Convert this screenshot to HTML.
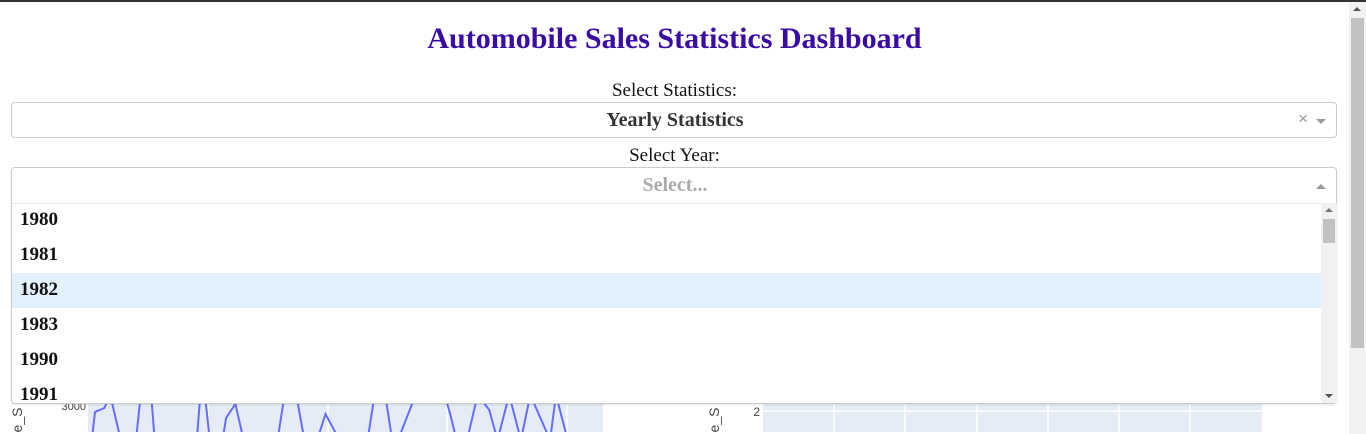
<!DOCTYPE html>
<html><head><meta charset="utf-8"><style>
body{margin:0;width:1366px;height:432px;overflow:hidden;background:#fff;font-family:"Liberation Serif",serif;position:relative;border-top:2px solid #333;box-sizing:border-box}
.abs{position:absolute}
h1{position:absolute;left:0;width:1349px;top:20px;margin:0;text-align:center;font-size:30px;color:#3a0ca3;font-weight:bold}
.lbl{position:absolute;width:1349px;text-align:center;font-size:19px;color:#111}
.dd{position:absolute;left:11px;width:1326px;border:1px solid #ccc;border-radius:4px;box-sizing:border-box;background:#fff}
.opt{position:absolute;left:20px;font-size:19px;font-weight:bold;color:#111}
</style></head><body>
<svg class="abs" style="left:0;top:-2px" width="1366" height="432">
<rect x="88" y="403" width="515" height="40" fill="#e5ecf6"/>
<g stroke="#fff" stroke-width="1.5"><line x1="208" y1="403" x2="208" y2="432"/><line x1="328" y1="403" x2="328" y2="432"/><line x1="447" y1="403" x2="447" y2="432"/><line x1="567" y1="403" x2="567" y2="432"/></g>
<path id="line" fill="none" stroke="#636efa" stroke-width="2"/>
<text x="86" y="410" font-size="11" fill="#444" text-anchor="end" font-family="Liberation Sans,sans-serif">3000</text>
<text transform="translate(22,420) rotate(-90)" font-size="14" fill="#444" font-family="Liberation Sans,sans-serif" text-anchor="middle">e_S</text>
<rect x="763" y="403" width="499" height="40" fill="#e5ecf6"/>
<g stroke="#fff" stroke-width="1.5"><line x1="834" y1="403" x2="834" y2="432"/><line x1="905" y1="403" x2="905" y2="432"/><line x1="977" y1="403" x2="977" y2="432"/><line x1="1048" y1="403" x2="1048" y2="432"/><line x1="1119" y1="403" x2="1119" y2="432"/><line x1="1190" y1="403" x2="1190" y2="432"/><line x1="763" y1="411" x2="1262" y2="411"/></g>
<text x="760" y="416" font-size="12" fill="#444" text-anchor="end" font-family="Liberation Sans,sans-serif">2</text>
<text transform="translate(719,420) rotate(-90)" font-size="14" fill="#444" font-family="Liberation Sans,sans-serif" text-anchor="middle">e_S</text>
</svg>
<h1>Automobile Sales Statistics Dashboard</h1>
<div class="lbl" style="top:78px">Select Statistics:</div>
<div class="dd" style="top:100px;height:36px">
<div class="abs" style="left:0;width:1326px;top:6px;text-align:center;font-size:20px;font-weight:bold;color:#333">Yearly Statistics</div>
<div class="abs" style="right:28px;top:6px;color:#999;font-size:17px;font-family:Liberation Sans,sans-serif">×</div>
<div class="abs" style="right:10px;top:16px;width:0;height:0;border-left:5px solid transparent;border-right:5px solid transparent;border-top:5px solid #999"></div>
</div>
<div class="lbl" style="top:143px">Select Year:</div>
<div class="dd" style="top:165px;height:237px;box-shadow:0 1px 2px rgba(0,0,0,.1)">
<div class="abs" style="left:0;width:1326px;top:6px;text-align:center;font-size:20px;font-weight:bold;color:#aaa">Select...</div>
<div class="abs" style="right:10px;top:16px;width:0;height:0;border-left:5px solid transparent;border-right:5px solid transparent;border-bottom:5px solid #999"></div>
<div class="abs" style="left:0;top:35px;width:1324px;border-top:1px solid #e6e6e6"></div>
<div class="abs" style="left:0;top:105px;width:1309px;height:35px;background:#e3f0fd"></div>
<div class="abs" style="left:1309px;top:35px;width:16px;height:200px;background:#f1f1f1">
<div class="abs" style="top:16px;width:12px;height:24px;background:#c1c1c1;left:2px"></div>
<div class="abs" style="left:4px;top:5px;border-left:4px solid transparent;border-right:4px solid transparent;border-bottom:4px solid #777"></div>
<div class="abs" style="left:4px;bottom:5px;border-left:4px solid transparent;border-right:4px solid transparent;border-top:4px solid #555"></div>
</div>
</div>
<div class="opt" style="top:207px">1980</div>
<div class="opt" style="top:242px">1981</div>
<div class="opt" style="top:277px">1982</div>
<div class="opt" style="top:312px">1983</div>
<div class="opt" style="top:347px">1990</div>
<div class="opt" style="top:382px">1991</div>
<div class="abs" style="left:1349px;top:0;width:17px;height:432px;background:#f1f1f1">
<div class="abs" style="left:2px;top:16px;width:13px;height:330px;background:#c1c1c1"></div>
<div class="abs" style="left:4px;top:5px;border-left:4px solid transparent;border-right:4px solid transparent;border-bottom:4px solid #555"></div>
</div>
<script>
const years=[1980.4,1980.6,1981.4,1981.9,1982.8,1984.1,1984.5,1985.4,1985.7,1989.3,1989.6,1990.0,1990.4,1991.5,1991.8,1992.6,1993.3,1996.2,1996.8,1997.8,1998.5,1999.4,1999.8,2000.3,2001.5,2003.9,2004.5,2005.4,2006.0,2006.5,2008.0,2010.5,2011.0,2011.5,2012.4,2013.3,2014.3,2015.0,2016.0,2017.0,2017.8,2019.5,2020.0,2021.0];
const sales=[2740,2940,2980,3110,2660,2660,3110,3110,2660,2660,3110,3110,2660,2660,2880,3020,2660,2660,3110,3110,2660,2660,2740,2920,2660,2660,3110,3110,2660,2660,3110,3110,2900,2660,2660,3110,2960,2660,3110,2660,3110,2660,3110,2660];
const X=v=>88+(v-1980)*11.7, Y=v=>406-(v-3000)*0.1;
const p=document.getElementById('line');
p.setAttribute('d',years.map((y,i)=>(i?'L':'M')+X(y).toFixed(1)+','+Y(sales[i]).toFixed(1)).join(''));
</script>
</body></html>
